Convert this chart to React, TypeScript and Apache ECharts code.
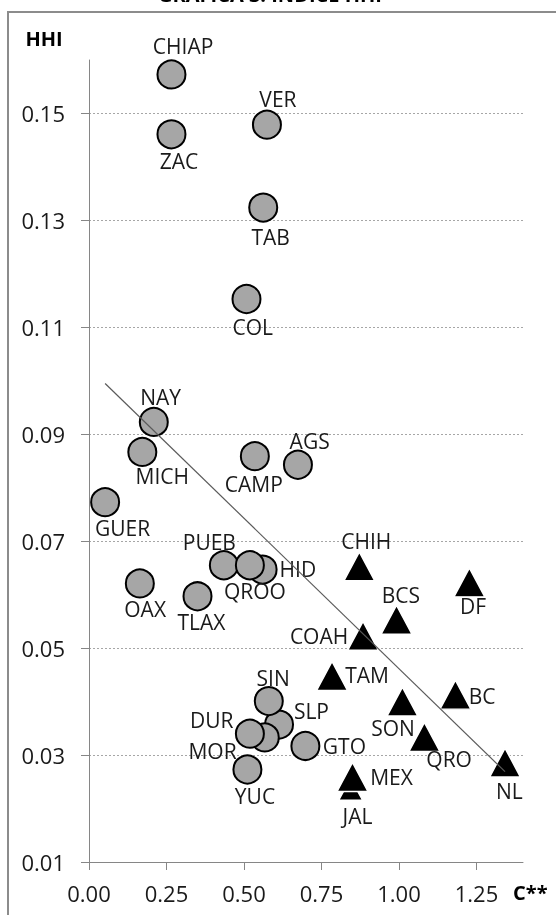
import React, { useEffect, useRef } from 'react';
import * as echarts from 'echarts';

// ---- Data ----
const circleNames = ['CHIAP', 'ZAC', 'VER', 'TAB', 'COL', 'NAY', 'MICH', 'CAMP', 'AGS', 'GUER', 'HID', 'PUEB', 'QROO', 'OAX', 'TLAX', 'SLP', 'MOR', 'DUR', 'SIN', 'GTO', 'YUC'];
const circleX = [0.266, 0.266, 0.574, 0.562, 0.508, 0.209, 0.172, 0.535, 0.674, 0.052, 0.56, 0.435, 0.519, 0.164, 0.35, 0.613, 0.567, 0.519, 0.58, 0.698, 0.511];
const circleY = [0.1573, 0.1461, 0.1479, 0.1324, 0.1153, 0.0923, 0.0867, 0.0859, 0.0843, 0.0773, 0.0647, 0.0655, 0.0655, 0.0621, 0.0597, 0.0357, 0.0333, 0.034, 0.0401, 0.0317, 0.0273];

const triNames = ['CHIH', 'DF', 'BCS', 'COAH', 'TAM', 'BC', 'SON', 'QRO', 'NL', 'JAL', 'MEX'];
const triX = [0.872, 1.227, 0.992, 0.884, 0.784, 1.182, 1.011, 1.082, 1.342, 0.844, 0.85];
const triY = [0.0653, 0.0623, 0.0553, 0.0523, 0.0448, 0.0413, 0.04, 0.0334, 0.0286, 0.0236, 0.0259];

const trendX = [0.052, 1.342];
const trendY = [0.0995, 0.0269];

const xTicks = [0, 0.25, 0.5, 0.75, 1.0, 1.25];
const yTicks = [0.01, 0.03, 0.05, 0.07, 0.09, 0.11, 0.13, 0.15];

const titleText = 'GRÁFICA 3. ÍNDICE HHI';
const yName = 'HHI';
const xName = 'C**';

// ---- Presentation (label placement relative to the marker centre, px) ----
const labelOffsets: Record<string, [number, number]> = {
  CHIAP: [11.6, -28.5], ZAC: [7.6, 27], VER: [11, -26], TAB: [7.5, 29], COL: [6.3, 28],
  NAY: [6.8, -25], MICH: [20, 24], CAMP: [-1, 28], AGS: [11.7, -23.5], GUER: [17.5, 26.3],
  HID: [35.3, -1], PUEB: [-14.5, -23.3], QROO: [5, 26], OAX: [5.3, 26], TLAX: [4, 26],
  SLP: [32.4, -13.7], MOR: [-52.2, 13.5], DUR: [-38.2, -13.5], SIN: [4.3, -23.5], GTO: [39, 0],
  YUC: [7.6, 26.2], CHIH: [7, -25], DF: [3.7, 23.3], BCS: [4.3, -24.3], COAH: [-44, 0],
  TAM: [35, -0.6], BC: [26.7, 1], SON: [-9.4, 26], QRO: [24.7, 22.5], NL: [4.3, 28.5],
  JAL: [6.8, 27], MEX: [39, 0],
};
const triSizeOverride: Record<string, [number, number]> = { JAL: [24, 22] };

const FONT = '"Open Sans", "Noto Sans", sans-serif';
const TEXT = '#1a1a1a';

export default function App() {
  const ref = useRef<HTMLDivElement>(null);

  useEffect(() => {
    if (!ref.current) return;
    const chart = echarts.init(ref.current, null, { renderer: 'svg' });

    const labelFor = (name: string) => ({
      show: true,
      position: 'inside',
      formatter: name,
      offset: labelOffsets[name] || [0, 0],
      color: TEXT,
      fontSize: 21,
      fontFamily: FONT,
    });

    const circleData = circleNames.map((n, i) => ({
      name: n,
      value: [circleX[i], circleY[i]],
      label: labelFor(n),
    }));
    const triData = triNames.map((n, i) => {
      const d: any = { name: n, value: [triX[i], triY[i]], label: labelFor(n) };
      if (triSizeOverride[n]) d.symbolSize = triSizeOverride[n];
      return d;
    });

    const fmt = (v: number) => v.toFixed(2);

    chart.setOption({
      animation: false,
      textStyle: { fontFamily: FONT },
      grid: { left: 89, top: 60, width: 434, height: 802, containLabel: false, outerBoundsMode: 'none' },
      xAxis: {
        type: 'value',
        min: 0,
        max: 1.4,
        axisLine: { show: true, onZero: false, lineStyle: { color: '#868686', width: 1 } },
        axisTick: { show: true, length: 8, lineStyle: { color: '#868686' }, customValues: xTicks },
        axisLabel: { customValues: xTicks, formatter: fmt, fontSize: 22, color: TEXT, margin: 20, fontFamily: FONT },
        splitLine: { show: false },
      },
      yAxis: {
        type: 'value',
        min: 0.01,
        max: 0.16,
        axisLine: { show: true, onZero: false, lineStyle: { color: '#868686', width: 1 } },
        axisTick: { show: true, length: 8, lineStyle: { color: '#868686' }, customValues: yTicks },
        axisLabel: { customValues: yTicks, formatter: fmt, fontSize: 22, color: TEXT, margin: 24, fontFamily: FONT },
        splitLine: { show: true, lineStyle: { type: [2, 2], color: '#a6a6a6', width: 1 } },
      },
      series: [
        {
          type: 'scatter',
          name: 'circles',
          symbol: 'circle',
          symbolSize: 28,
          itemStyle: { color: '#a6a6a6', borderColor: '#000', borderWidth: 2, opacity: 1 },
          data: circleData,
          z: 2,
        },
        {
          type: 'scatter',
          name: 'triangles',
          symbol: 'triangle',
          symbolSize: [31, 29],
          itemStyle: { color: '#000', borderColor: '#fff', borderWidth: 1.5, opacity: 1 },
          data: triData,
          z: 2,
        },
        {
          type: 'line',
          name: 'trend',
          data: trendX.map((x, i) => [x, trendY[i]]),
          symbol: 'none',
          lineStyle: { color: '#5a5a5a', width: 1.2 },
          z: 3,
          silent: true,
        },
      ],
      graphic: [
        {
          type: 'rect',
          silent: true,
          z: -1,
          shape: { x: 8, y: 12, width: 700, height: 1000 },
          style: { fill: 'none', stroke: '#8c8c8c', lineWidth: 2 },
        },
        {
          type: 'text',
          x: 270,
          y: -6,
          style: { text: titleText, fontSize: 20, fontWeight: 'bold', fontFamily: FONT, fill: '#000', align: 'center', verticalAlign: 'middle' },
        },
        {
          type: 'text',
          x: 44,
          y: 38.5,
          style: { text: yName, fontSize: 20, fontWeight: 'bold', fontFamily: FONT, fill: '#000', align: 'center', verticalAlign: 'middle' },
        },
        {
          type: 'text',
          x: 513,
          y: 892,
          style: { text: xName, fontSize: 20, fontWeight: 'bold', fontFamily: FONT, fill: '#000', align: 'left', verticalAlign: 'middle' },
        },
      ],
    });

    return () => chart.dispose();
  }, []);

  return <div ref={ref} style={{ position: 'fixed', left: 0, top: 0, width: 556, height: 915 }} />;
}
